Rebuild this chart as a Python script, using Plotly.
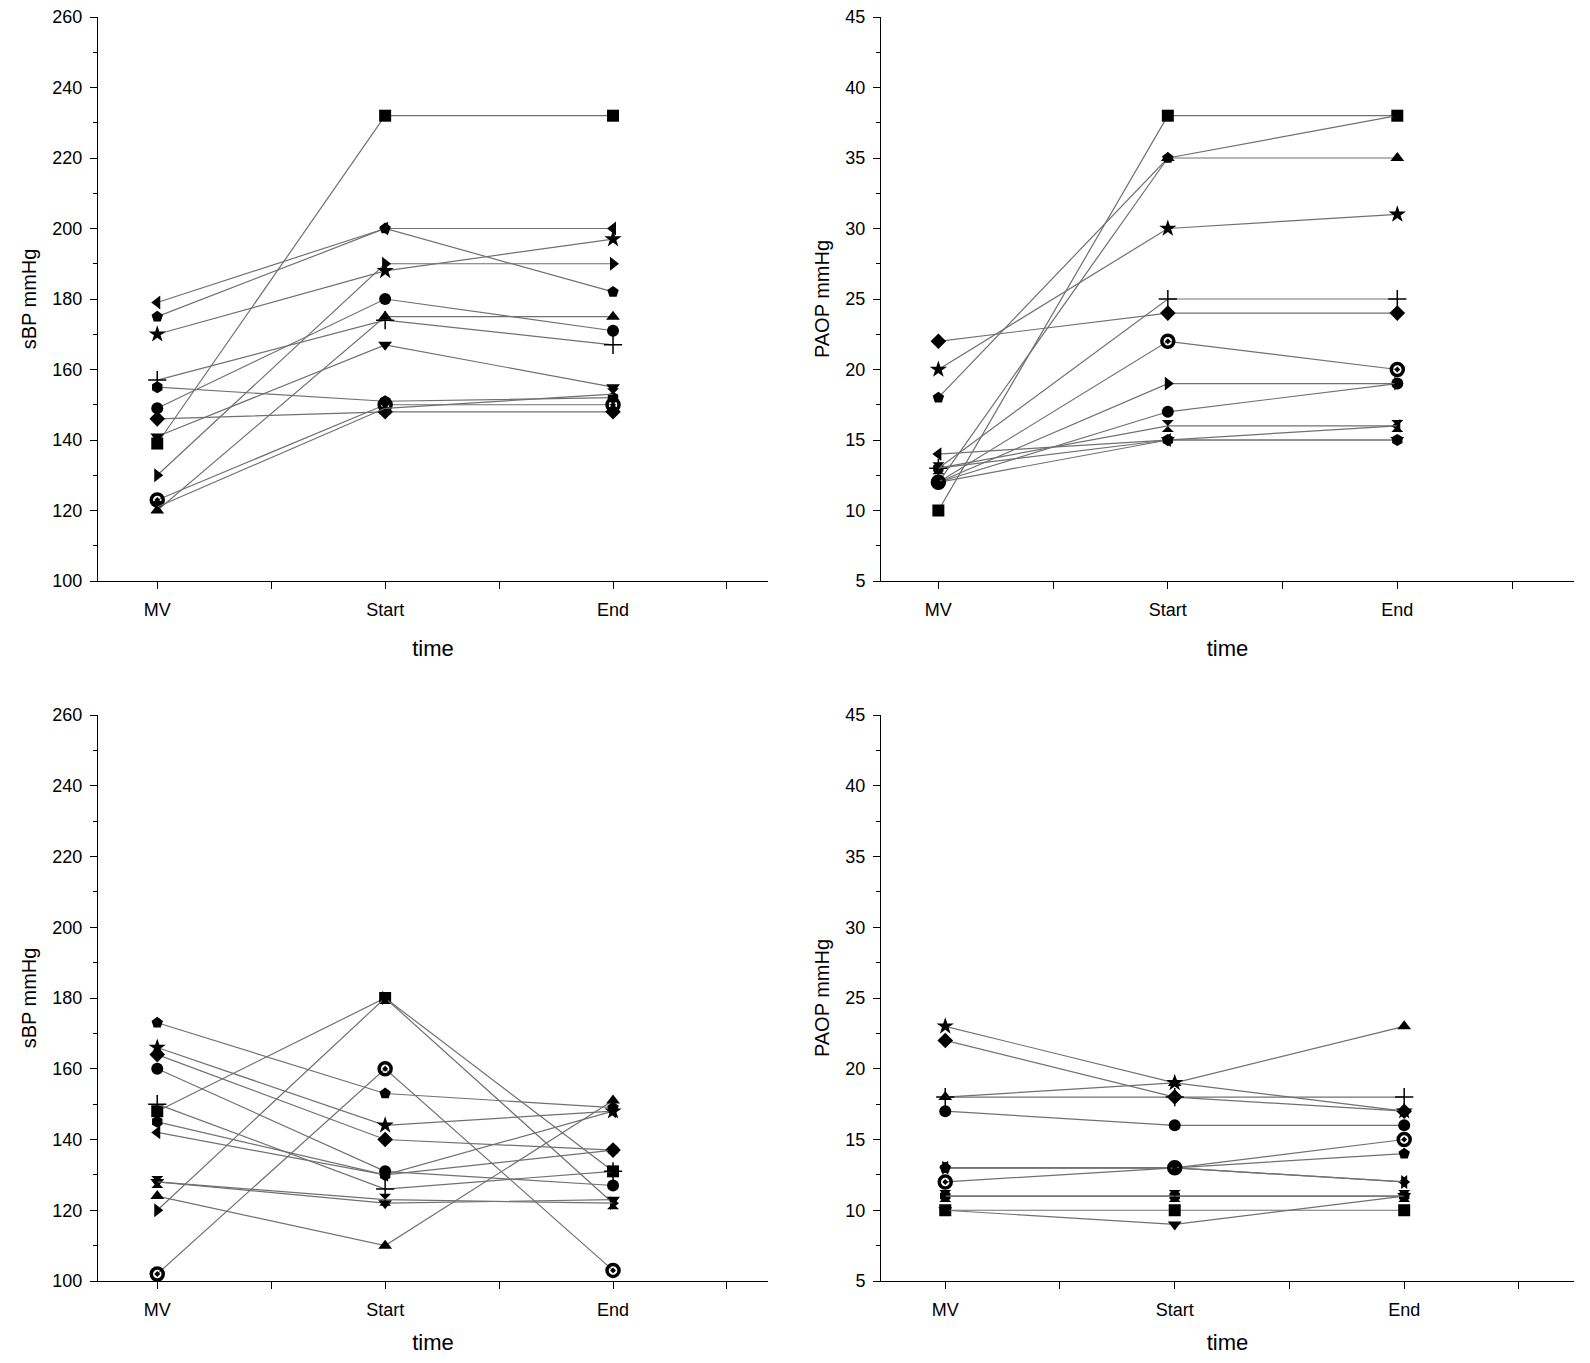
import plotly.graph_objects as go

times = ["MV", "Start", "End"]
tpos = [1, 2, 3]

symbols = ["square", "circle", "triangle-up", "triangle-down", "diamond",
           "triangle-left", "triangle-right", "pentagon", "hexagon", "star",
           "circle-open-dot", "cross-thin", "hourglass"]

# Group 1 systolic BP (MV, Start, End)
sbp1 = [
    [139, 232, 232],
    [149, 180, 171],
    [120, 175, 175],
    [141, 167, 155],
    [146, 148, 148],
    [179, 200, 200],
    [130, 190, 190],
    [175, 200, 182],
    [155, 151, 152],
    [170, 188, 197],
    [123, 150, 150],
    [157, 174, 167],
    [121, 149, 153],
]
# Group 1 PAOP
paop1 = [
    [10, 38, 38],
    [12, 17, 19],
    [12, 35, 35],
    [12, 15, 15],
    [22, 24, 24],
    [14, 15, 16],
    [12, 19, 19],
    [18, 35, 38],
    [13, 15, 15],
    [20, 30, 31],
    [12, 22, 20],
    [13, 25, 25],
    [13, 16, 16],
]
# Group 2 systolic BP
sbp2 = [
    [148, 180, 131],
    [160, 131, 127],
    [124, 110, 151],
    [128, 122, 123],
    [164, 140, 137],
    [142, 130, 148],
    [120, 180, 122],
    [173, 153, 149],
    [145, 130, 137],
    [166, 144, 148],
    [102, 160, 103],
    [150, 126, 131],
    [128, 123, 122],
]
# Group 2 PAOP
paop2 = [
    [10, 10, 10],
    [17, 16, 16],
    [18, 19, 23],
    [10, 9, 11],
    [22, 18, 17],
    [13, 13, 12],
    [13, 13, 12],
    [13, 13, 14],
    [11, 11, 11],
    [23, 19, 17],
    [12, 13, 15],
    [18, 18, 18],
    [11, 11, 11],
]

fig = go.Figure()

panels = [
    (sbp1, "x", "y"),
    (paop1, "x2", "y2"),
    (sbp2, "x3", "y3"),
    (paop2, "x4", "y4"),
]
for data, xa, ya in panels:
    for vals, sym in zip(data, symbols):
        if sym == "cross-thin":
            mk = dict(symbol=sym, size=13, color="black", line=dict(color="black", width=1.5))
        elif sym == "circle-open-dot":
            mk = dict(symbol=sym, size=12, color="black", line=dict(color="black", width=3.5))
        else:
            mk = dict(symbol=sym, size=13 if sym == "star" else 12, color="black",
                      line=dict(width=0))
        fig.add_trace(go.Scatter(
            x=tpos, y=vals, xaxis=xa, yaxis=ya, mode="lines+markers",
            line=dict(color="#707070", width=1.2),
            marker=mk, showlegend=False, hoverinfo="skip"))

font = dict(family="Liberation Sans, Arial, sans-serif", size=18, color="black")

def xaxis(domain, rng):
    return dict(domain=domain, range=rng, tickvals=[1, 1.5, 2, 2.5, 3, 3.5],
                ticktext=["MV", "", "Start", "", "End", ""],
                ticks="outside", ticklen=7, tickcolor="black", tickwidth=1,
                ticklabelstandoff=5, ticklabeloverflow="allow",
                showline=True, linecolor="black", linewidth=1, automargin=False,
                showgrid=False, zeroline=False, tickfont=font,
                title=dict(text="time", font=dict(size=22, family=font["family"]), standoff=22))

def yaxis(domain, rng, dtick, title):
    return dict(domain=domain, range=rng, dtick=dtick, tick0=rng[0],
                ticks="outside", ticklen=7, tickcolor="black", tickwidth=1,
                ticklabelstandoff=4, ticklabeloverflow="allow",
                minor=dict(ticks="outside", ticklen=4, tickcolor="black", dtick=dtick / 2),
                showline=True, linecolor="black", linewidth=1, automargin=False,
                showgrid=False, zeroline=False, tickfont=font,
                title=dict(text=title, font=dict(size=20, family=font["family"]), standoff=10))

# page body has an 8px margin; lay out in reference pixel coordinates
OFF = 8
W, H = 1590 - 2 * OFF, 1363 - 2 * OFF

def px_x(a, b):
    return [(a - OFF) / W, (b - OFF) / W]

def px_y(top, bottom):
    return [1 - (bottom - OFF) / H, 1 - (top - OFF) / H]

topy = px_y(17, 581)
boty = px_y(715, 1281)
leftx = px_x(98, 768)
rightx = px_x(881, 1574)

fig.update_layout(
    width=W, height=H, margin=dict(l=0, r=0, t=0, b=0, autoexpand=False),
    paper_bgcolor="white", plot_bgcolor="white", font=font,
    xaxis=dict(**xaxis(leftx, [0.74, 3.68]), anchor="y"),
    yaxis=dict(**yaxis(topy, [100, 260], 20, "sBP mmHg"), anchor="x"),
    xaxis2=dict(**xaxis(rightx, [0.75, 3.77]), anchor="y2"),
    yaxis2=dict(**yaxis(topy, [5, 45], 5, "PAOP mmHg"), anchor="x2"),
    xaxis3=dict(**xaxis(leftx, [0.74, 3.68]), anchor="y3"),
    yaxis3=dict(**yaxis(boty, [100, 260], 20, "sBP mmHg"), anchor="x3"),
    xaxis4=dict(**xaxis(rightx, [0.72, 3.74]), anchor="y4"),
    yaxis4=dict(**yaxis(boty, [5, 45], 5, "PAOP mmHg"), anchor="x4"),
)

fig.write_html("out.html")
